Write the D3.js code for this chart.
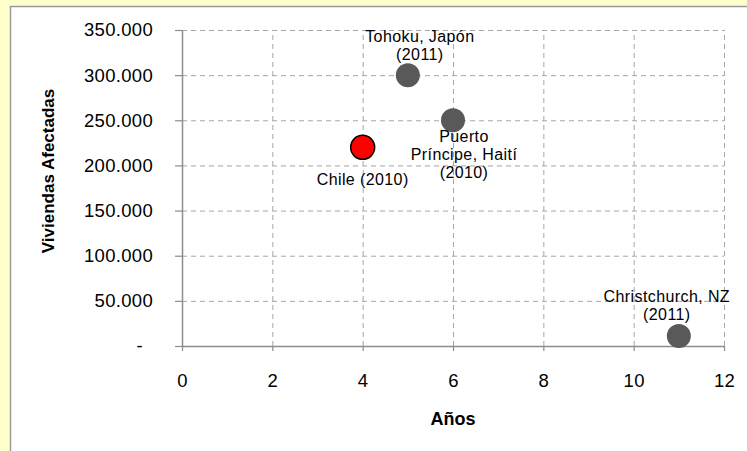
<!DOCTYPE html>
<html>
<head>
<meta charset="utf-8">
<script src="https://cdn.jsdelivr.net/npm/d3@7"></script>
<style>
  body { margin: 0; background: #FFFFCC; }
  svg { display: block; font-family: Arial, "Liberation Sans", sans-serif; }
</style>
</head>
<body>
<div id="chart"></div>
<script>
// Data
var names = ["Chile (2010)", "Tohoku, Japón (2011)", "Puerto Príncipe, Haití (2010)", "Christchurch, NZ (2011)"];
var labelLines = [["Chile (2010)"], ["Tohoku, Japón", "(2011)"], ["Puerto", "Príncipe, Haití", "(2010)"], ["Christchurch, NZ", "(2011)"]];
var years = [4, 5, 6, 11];                      // Años
var homes = [220000, 300000, 250000, 11000];    // Viviendas Afectadas
var highlight = [true, false, false, false];
var xTicks = [0, 2, 4, 6, 8, 10, 12];
var yTicks = [0, 50000, 100000, 150000, 200000, 250000, 300000, 350000];

var svgWidth = 747;
var svgHeight = 451;

// plot area edges
var plot = { left: 182, right: 724, top: 30, bottom: 346 };

var svg = d3.select("#chart")
  .append("svg")
  .attr("width", svgWidth)
  .attr("height", svgHeight);

// yellow surround + white chart panel
svg.append("rect")
  .attr("width", svgWidth).attr("height", svgHeight)
  .attr("fill", "#FFFFCC");
svg.append("rect")
  .attr("x", 10.5).attr("y", 6.5)
  .attr("width", svgWidth).attr("height", svgHeight)
  .attr("fill", "#fff")
  .attr("stroke", "#9a9a9a")
  .attr("stroke-width", 1.5);

var x = d3.scaleLinear().domain([0, 12]).range([plot.left, plot.right]);
var y = d3.scaleLinear().domain([0, 350000]).range([plot.bottom, plot.top]);

var locale = d3.formatLocale({ decimal: ",", thousands: ".", grouping: [3], currency: ["", ""] });
var fmt = locale.format(",");

// gridlines
var gridX = svg.append("g")
  .attr("transform", `translate(0, ${plot.bottom})`)
  .call(d3.axisBottom(x).tickValues(xTicks.slice(1)).tickSize(-(plot.bottom - plot.top)).tickFormat(""));
var gridY = svg.append("g")
  .attr("transform", `translate(${plot.left}, 0)`)
  .call(d3.axisLeft(y).tickValues(yTicks.slice(1)).tickSize(-(plot.right - plot.left)).tickFormat(""));
[gridX, gridY].forEach(function(g) {
  g.select(".domain").remove();
  g.selectAll("line")
    .attr("stroke", "#a6a6a6")
    .attr("stroke-width", 1)
    .attr("stroke-dasharray", "5,4");
});

// axes
var xAxis = svg.append("g")
  .attr("transform", `translate(0, ${plot.bottom})`)
  .call(d3.axisBottom(x).tickValues(xTicks).tickSize(5).tickSizeOuter(0).tickPadding(23));
var yAxis = svg.append("g")
  .attr("transform", `translate(${plot.left}, 0)`)
  .call(d3.axisLeft(y).tickValues(yTicks).tickSize(7).tickSizeOuter(0).tickPadding(22)
    .tickFormat(function(d) { return d === 0 ? "-" : fmt(d); }));

[xAxis, yAxis].forEach(function(g) {
  g.select(".domain").attr("stroke", "#8c8c8c").attr("stroke-width", 1.5);
  g.selectAll("line").attr("stroke", "#8c8c8c").attr("stroke-width", 1.2);
  g.selectAll("text")
    .attr("fill", "#000")
    .attr("font-size", "18.5px")
    .attr("letter-spacing", "0.3px")
    .attr("font-family", "Arial, 'Liberation Sans', sans-serif");
});
// the "-" of the accounting format sits a little in from the right edge
yAxis.selectAll(".tick text").filter(function(d) { return d === 0; }).attr("dx", "-10px");

// axis titles
svg.append("text")
  .attr("transform", `translate(54, 171) rotate(-90)`)
  .attr("text-anchor", "middle")
  .attr("font-size", "17px")
  .attr("font-weight", "bold")
  .text("Viviendas Afectadas");

svg.append("text")
  .attr("x", 453)
  .attr("y", 425)
  .attr("text-anchor", "middle")
  .attr("font-size", "18px")
  .attr("font-weight", "bold")
  .text("Años");

// points
var idx = d3.range(names.length);
svg.selectAll("circle.pt")
  .data(idx)
  .enter()
  .append("circle")
  .attr("class", "pt")
  .attr("cx", i => x(years[i]))
  .attr("cy", i => y(homes[i]))
  .attr("r", 12)
  .attr("fill", i => highlight[i] ? "#ff0000" : "#595959")
  .attr("stroke", i => highlight[i] ? "#000" : "none")
  .attr("stroke-width", 1.5);

// data labels: offset of the label centre / first baseline from the point
var labelDx = [0, 12, 11, -12];
var labelDy = [38, -33, 22, -34];

idx.forEach(function(i) {
  var t = svg.append("text")
    .attr("text-anchor", "middle")
    .attr("font-size", "16px")
    .attr("letter-spacing", "0.4px")
    .attr("fill", "#000");
  labelLines[i].forEach(function(line, k) {
    t.append("tspan")
      .attr("x", x(years[i]) + labelDx[i])
      .attr("y", y(homes[i]) + labelDy[i] + k * 18)
      .text(line);
  });
});
</script>
</body>
</html>
